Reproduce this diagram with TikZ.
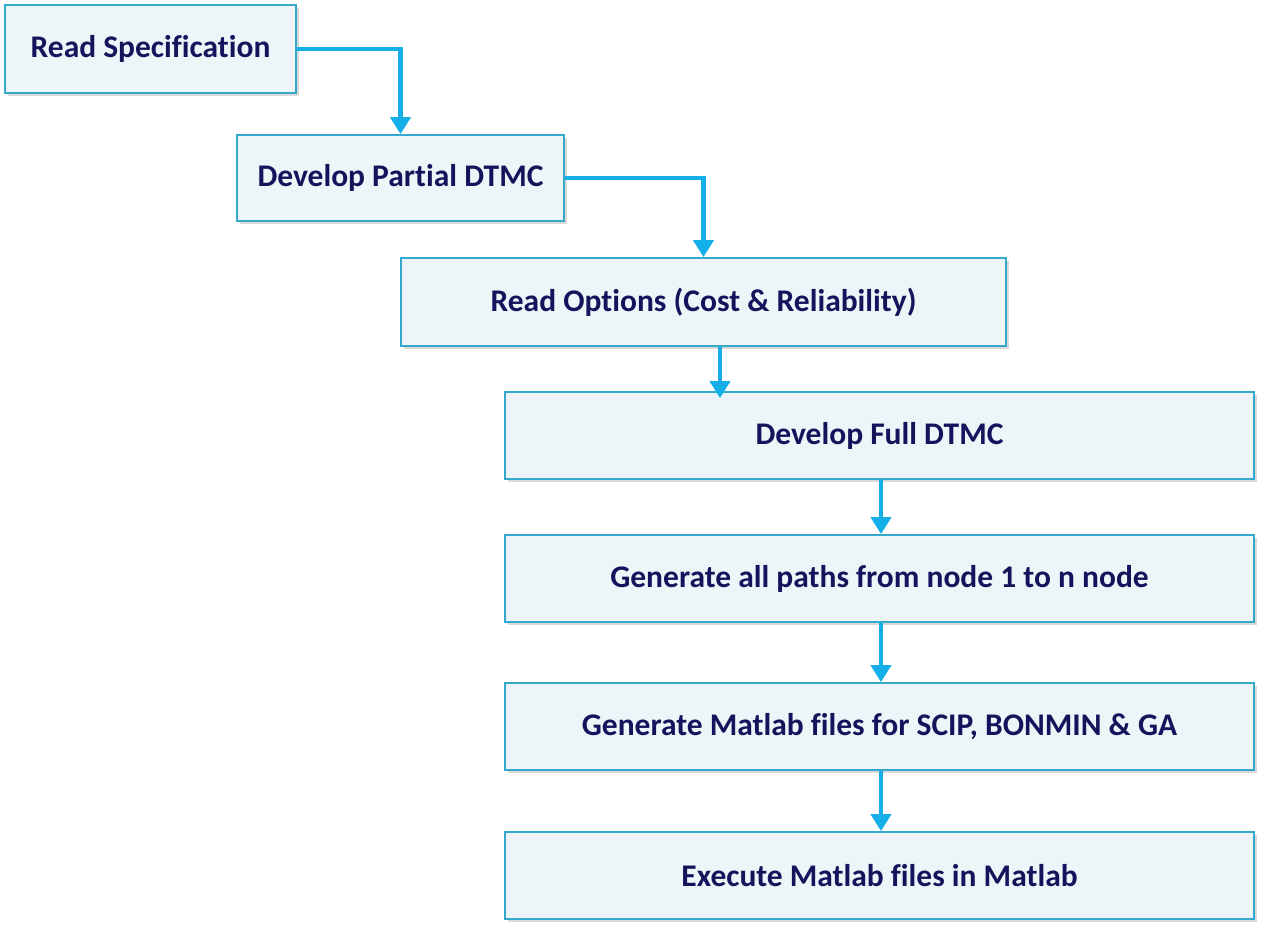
\documentclass[tikz,border=0pt]{standalone}
\usepackage{fontspec}
\setmainfont{Carlito}[Ligatures={NoCommon}]
\usetikzlibrary{arrows.meta,shadows}
\definecolor{boxline}{HTML}{35A9CC}
\definecolor{boxfill}{HTML}{EEF5F8}
\definecolor{arrowc}{HTML}{14AEE8}
\definecolor{txt}{HTML}{14145C}
\tikzset{
  box/.style={draw=boxline, line width=1.8pt, fill=boxfill, inner sep=0pt,
    font=\fontsize{31.5}{38}\selectfont\bfseries, text=txt,
    drop shadow={shadow xshift=3pt, shadow yshift=-3pt, opacity=0.25, fill=black!60}},
  flow/.style={draw=arrowc, line width=4.3pt, -{Triangle[width=20pt,length=17pt]}}
}
\begin{document}
\begin{tikzpicture}[x=1pt,y=-1pt]
\useasboundingbox (0,0) rectangle (1269,934);
\node[box, minimum width=291pt, minimum height=88pt] (b1) at (150.5,49) {Read Specification};
\node[box, minimum width=327pt, minimum height=86pt] (b2) at (400.5,178) {Develop Partial DTMC};
\node[box, minimum width=605pt, minimum height=88pt] (b3) at (703.5,302) {Read Options (Cost \& Reliability)};
\node[box, minimum width=749pt, minimum height=87pt] (b4) at (879.5,435.5) {Develop Full DTMC};
\node[box, minimum width=749pt, minimum height=87pt] (b5) at (879.5,578.5) {Generate all paths from node 1 to n node};
\node[box, minimum width=749pt, minimum height=87pt] (b6) at (879.5,726.5) {Generate Matlab files for SCIP, BONMIN \& GA};
\node[box, minimum width=749pt, minimum height=87pt] (b7) at (879.5,875.5) {Execute Matlab files in Matlab};
\coordinate (c3) at (720,346);
\coordinate (cx) at (881,0);
\draw[flow] (b1.east) -| (b2.north);
\draw[flow] (b2.east) -| (b3.north);
\draw[flow] (b3.south -| c3) -- ([yshift=-7pt]b4.north -| c3);
\draw[flow] (b4.south -| cx) -- (b5.north -| cx);
\draw[flow] (b5.south -| cx) -- (b6.north -| cx);
\draw[flow] (b6.south -| cx) -- (b7.north -| cx);
\end{tikzpicture}
\end{document}
